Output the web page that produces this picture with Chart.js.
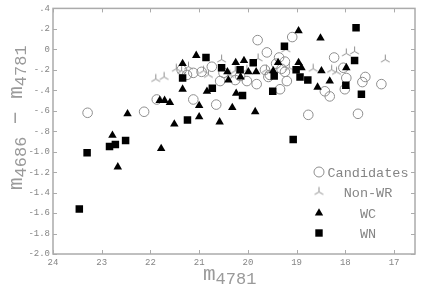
<!DOCTYPE html>
<html><head><meta charset="utf-8">
<style>html,body{margin:0;padding:0;background:#fff;overflow:hidden}#wrap{width:425px;height:293px;position:relative}</style>
<script src="https://cdn.jsdelivr.net/npm/chart.js@4/dist/chart.umd.min.js"></script>
</head><body><div id="wrap"><canvas id="c" width="425" height="293"></canvas></div>
<script>
const xTicks = [24,23,22,21,20,19,18,17];
const yTicks = [0.4,0.2,0,-0.2,-0.4,-0.6,-0.8,-1.0,-1.2,-1.4,-1.6,-1.8,-2.0];
const seriesNames = ['Candidates','Non-WR','WC','WN'];
const xTitleMain = 'm', xTitleSub = '4781';
const yTitleParts = [['m',false],['4686',true],[' − ',false],['m',false],['4781',true]];

const candidates = [
[23.29,-0.62],[22.13,-0.61],[21.87,-0.49],[21.12,-0.49],[20.65,-0.54],
[21.36,-0.20],[21.25,-0.25],[21.12,-0.23],[20.95,-0.22],[20.74,-0.17],[20.57,-0.31],[20.50,-0.23],
[20.26,-0.30],[20.16,-0.26],[20.02,-0.31],[19.82,-0.34],[19.80,0.09],[19.09,0.12],[19.61,-0.03],
[19.36,-0.08],[19.24,-0.12],[19.65,-0.20],[19.55,-0.25],[19.58,-0.27],[19.34,-0.39],[19.20,-0.31],
[19.31,-0.19],[19.24,-0.22],[19.42,-0.14],[18.23,-0.08],[18.04,-0.18],[17.98,-0.28],[18.01,-0.39],
[18.42,-0.41],[18.32,-0.46],[17.59,-0.27],[17.65,-0.32],[17.26,-0.34],[17.74,-0.63],[18.76,-0.64]
];
const nonWR = [
[21.89,-0.29],[21.72,-0.27],[21.36,-0.21],[21.47,-0.19],[21.22,-0.17],[20.91,-0.21],[20.81,-0.25],
[20.54,-0.10],[20.37,-0.25],[20.26,-0.21],[20.02,-0.20],[19.79,-0.09],[19.62,-0.20],[19.22,0.00],
[19.15,-0.18],[18.66,-0.19],[18.28,-0.20],[18.18,-0.22],[17.98,-0.04],[17.81,-0.02],[17.18,-0.10]
];
const wc = [
[22.78,-0.84],[22.67,-1.15],[22.47,-0.63],[21.78,-0.97],[21.81,-0.50],[21.71,-0.50],[21.60,-0.52],
[21.51,-0.73],[21.34,-0.39],[21.34,-0.14],[21.06,-0.06],[21.00,-0.55],[21.00,-0.66],[20.84,-0.41],
[20.58,-0.71],[20.32,-0.57],[20.24,-0.43],[19.85,-0.61],[20.42,-0.22],[20.40,-0.30],[20.25,-0.13],
[20.08,-0.11],[19.99,-0.22],[19.83,-0.22],[20.15,-0.27],[19.38,-0.13],[19.48,-0.21],[18.96,0.18],
[18.96,-0.13],[18.90,-0.18],[18.51,0.11],[18.49,-0.21],[18.32,-0.31],[18.57,-0.37],[17.98,-0.18]
];
const wn = [
[23.46,-1.56],[23.30,-1.01],[22.84,-0.95],[22.72,-0.93],[22.51,-0.89],[21.24,-0.69],[21.34,-0.28],
[20.86,-0.08],[20.73,-0.38],[20.54,-0.18],[20.16,-0.20],[20.11,-0.45],[19.89,-0.13],[19.49,-0.41],
[19.46,-0.26],[19.25,0.03],[19.01,-0.20],[18.93,-0.27],[18.77,-0.30],[19.07,-0.88],[17.99,-0.35],
[17.81,-0.11],[17.78,0.21],[17.67,-0.44]
];

const GRAY = '#8e8e8e', TXT = '#858585', TITLE = '#9a9a9a', AXIS = '#ababab';
const MONO = '"Liberation Mono","DejaVu Sans Mono",monospace';

function triStar(len, color){
  const s = len*2+3; const c = document.createElement('canvas'); c.width = s; c.height = s;
  const g = c.getContext('2d'); const cx = s/2, cy = s/2;
  g.strokeStyle = color; g.lineWidth = 1; g.beginPath();
  for (const a of [-90,30,150]) { const r = a*Math.PI/180; g.moveTo(cx,cy); g.lineTo(cx+len*Math.cos(r), cy+len*Math.sin(r)); }
  g.stroke(); return c;
}
const starImg = triStar(5, GRAY);
const toPts = a => a.map(p => ({x:p[0], y:p[1]}));

function fmtY(v){ v = Math.round(v*10)/10; if (v === 0) return '0'; const s = v<0?'-':''; const a = Math.abs(v); return a<1 ? s+'.'+Math.round(a*10) : s+a.toFixed(1); }

const frame = {
  id:'frame',
  afterDraw(chart){
    const {ctx, chartArea:a, scales:{x, y}} = chart;
    ctx.save();
    ctx.strokeStyle = AXIS; ctx.lineWidth = 1.5;
    ctx.strokeRect(a.left, a.top, a.right-a.left, a.bottom-a.top);
    ctx.lineWidth = 1; ctx.beginPath();
    const L = 4;
    xTicks.forEach(v => { const px = Math.round(x.getPixelForValue(v))+0.5; ctx.moveTo(px,a.bottom); ctx.lineTo(px,a.bottom-L); ctx.moveTo(px,a.top); ctx.lineTo(px,a.top+L); });
    yTicks.forEach(v => { const py = Math.round(y.getPixelForValue(v))+0.5; ctx.moveTo(a.left,py); ctx.lineTo(a.left+L,py); ctx.moveTo(a.right,py); ctx.lineTo(a.right-L,py); });
    ctx.stroke();
    // axis titles with subscripts
    ctx.fillStyle = TITLE; ctx.textBaseline = 'alphabetic'; ctx.textAlign = 'left';
    const big = '21px '+MONO, small = '17px '+MONO;
    let cx = 203;
    ctx.font = big; ctx.fillText(xTitleMain, cx, 280); cx += ctx.measureText(xTitleMain).width;
    ctx.font = small; ctx.fillText(xTitleSub, cx, 284);
    ctx.save(); ctx.translate(22, 190); ctx.rotate(-Math.PI/2);
    let ox = 0;
    yTitleParts.forEach(([t, sub]) => { ctx.font = sub ? small : big; ctx.fillText(t, ox, sub ? 4 : 0); ox += ctx.measureText(t).width; });
    ctx.restore();
    // legend
    const lx = 319, tx = 368, rows = [172,192,213,233];
    ctx.font = '13.5px '+MONO; ctx.textAlign = 'center'; ctx.textBaseline = 'middle'; ctx.fillStyle = TXT;
    rows.forEach((ry, i) => ctx.fillText(seriesNames[i], tx, ry+1));
    ctx.strokeStyle = GRAY; ctx.lineWidth = 1;
    ctx.beginPath(); ctx.arc(lx, rows[0], 5, 0, Math.PI*2); ctx.stroke();
    ctx.drawImage(starImg, lx - starImg.width/2, rows[1] - starImg.height/2);
    ctx.fillStyle = '#000';
    const r = 4.8; ctx.beginPath();
    ctx.moveTo(lx, rows[2]-r); ctx.lineTo(lx+r*Math.sin(2*Math.PI/3), rows[2]-r*Math.cos(2*Math.PI/3)); ctx.lineTo(lx+r*Math.sin(4*Math.PI/3), rows[2]-r*Math.cos(4*Math.PI/3)); ctx.closePath(); ctx.fill();
    ctx.fillRect(lx-3.7, rows[3]-3.7, 7.4, 7.4);
    ctx.restore();
  }
};

new Chart(document.getElementById('c'), {
  type:'scatter',
  data:{ datasets:[
    {label:seriesNames[0], data:toPts(candidates), pointStyle:'circle', pointRadius:4.8, borderColor:GRAY, backgroundColor:'rgba(0,0,0,0)', borderWidth:1, order:4},
    {label:seriesNames[1], data:toPts(nonWR), pointStyle:starImg, pointRadius:5, borderColor:GRAY, backgroundColor:GRAY, order:3},
    {label:seriesNames[2], data:toPts(wc), pointStyle:'triangle', pointRadius:4.9, borderColor:'#000', backgroundColor:'#000', borderWidth:0, order:2},
    {label:seriesNames[3], data:toPts(wn), pointStyle:'rect', pointRadius:5.3, borderColor:'#000', backgroundColor:'#000', borderWidth:0, order:1}
  ]},
  options:{
    responsive:false, devicePixelRatio:1, animation:false, events:[],
    layout:{padding:{left:0, top:7, right:10, bottom:0}},
    plugins:{legend:{display:false}, tooltip:{enabled:false}, title:{display:false}},
    scales:{
      x:{type:'linear', reverse:true, min:16.57, max:24,
        grid:{display:false, drawTicks:false}, border:{display:false},
        afterBuildTicks: s => { s.ticks = xTicks.map(v => ({value:v})); },
        afterFit: s => { s.height = 39; },
        ticks:{padding:3, color:TXT, font:{family:MONO, size:9}, callback: v => String(v), maxRotation:0}},
      y:{type:'linear', min:-2.0, max:0.4,
        grid:{display:false, drawTicks:false}, border:{display:false},
        afterBuildTicks: s => { s.ticks = yTicks.map(v => ({value:v})); },
        afterFit: s => { s.width = 53; },
        ticks:{padding:3, color:TXT, font:{family:MONO, size:9}, callback: v => fmtY(v)}}
    }
  },
  plugins:[frame]
});
</script></body></html>
